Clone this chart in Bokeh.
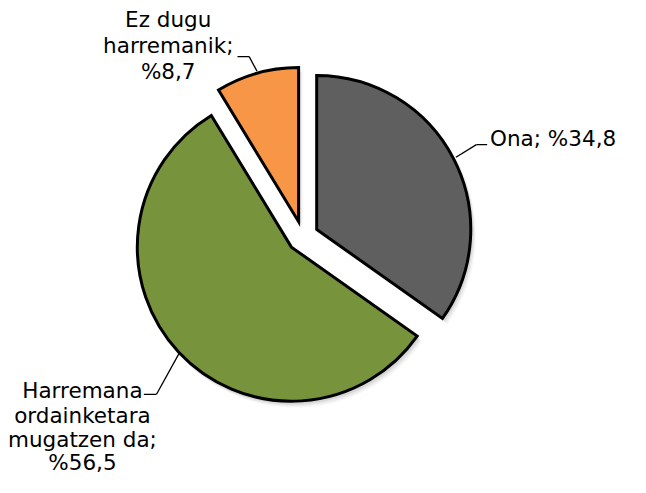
import math
from bokeh.plotting import figure
from bokeh.models import Range1d
from bokeh.core.properties import value
from bokeh.embed import file_html
from bokeh.resources import INLINE

# ---- data ----
categories = ["Ona", "Harremana ordainketara mugatzen da", "Ez dugu harremanik"]
values = [34.8, 56.5, 8.7]
colors = ["#5F5F5F", "#77933C", "#F79646"]
label_lines = [
    ["Ona; %34,8"],
    ["Harremana", "ordainketara", "mugatzen da;", "%56,5"],
    ["Ez dugu", "harremanik;", "%8,7"],
]

W, H = 630, 477
IW, IH = 646, 493
# data coords = reference image pixels (y flipped: y_data = IH - y_img)
def Y(yimg):
    return IH - yimg

p = figure(width=W, height=H, x_range=Range1d(0, IW), y_range=Range1d(0, IH),
           output_backend="svg", toolbar_location=None, min_border=0)
p.axis.visible = False
p.grid.visible = False
p.outline_line_color = None
p.background_fill_color = "white"
p.border_fill_color = "white"

cx, cy = 310, Y(244)
R = 158
explode = 16

total = sum(values)
cum = 0.0
wedges = []
for v, c in zip(values, colors):
    a0 = cum / total
    a1 = (cum + v) / total
    cum += v
    start = math.pi / 2 - a0 * 2 * math.pi
    end = math.pi / 2 - a1 * 2 * math.pi
    mid = (start + end) / 2
    x = cx + explode * math.cos(mid)
    y = cy + explode * math.sin(mid)
    wedges.append((x, y, start, end, c))

# soft shadow
for k, al in [(7, 0.035), (5, 0.05), (3, 0.07)]:
    for x, y, s, e, c in wedges:
        p.wedge(x=x + k * 0.6, y=y - k * 0.8, radius=R + 1, start_angle=s, end_angle=e,
                direction="clock", fill_color="black", fill_alpha=al, line_color=None)

for x, y, s, e, c in wedges:
    p.wedge(x=x, y=y, radius=R, start_angle=s, end_angle=e, direction="clock",
            fill_color=c, line_color="black", line_width=3, line_join="miter")

font = value("DejaVu Sans")
fs = "21.5px"

# leader lines
lw = 1.3
p.line([488, 499], [Y(149), Y(149)], line_color="black", line_width=lw)
p.line([488, 467], [Y(149), Y(162)], line_color="black", line_width=lw)
p.line([147, 160], [Y(407), Y(407)], line_color="black", line_width=lw)
p.line([160, 183], [Y(407), Y(365)], line_color="black", line_width=lw)
p.line([243, 255], [Y(58), Y(58)], line_color="black", line_width=lw)
p.line([255, 263], [Y(58), Y(73)], line_color="black", line_width=lw)

# labels
p.text(x=[502], y=[Y(143)], text=label_lines[0], text_font=font, text_font_size=fs,
       text_align="left", text_baseline="middle", text_color="black")
p.text(x=[84] * 4, y=[Y(403), Y(429), Y(454), Y(478)], text=label_lines[1], text_font=font,
       text_font_size=fs, text_align="center", text_baseline="middle", text_color="black")
p.text(x=[172] * 3, y=[Y(20), Y(47), Y(73)], text=label_lines[2], text_font=font,
       text_font_size=fs, text_align="center", text_baseline="middle", text_color="black")

open("out.html", "w").write(file_html(p, INLINE))
